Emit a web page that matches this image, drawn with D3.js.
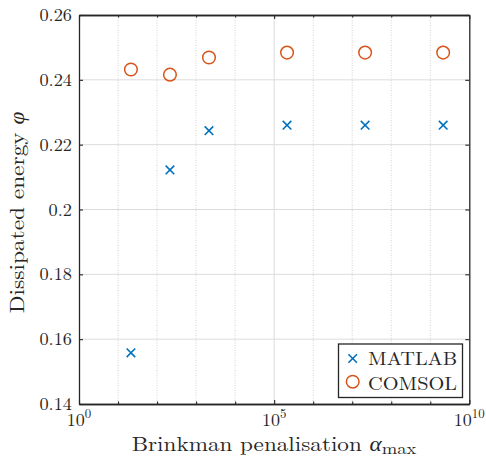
<!DOCTYPE html>
<html><head><meta charset="utf-8">
<script src="https://cdn.jsdelivr.net/npm/d3@7"></script>
<style>body{margin:0;background:#fff}svg{display:block}text{font-family:"Latin Modern Roman","CMU Serif","Liberation Serif",serif;fill:#262626}</style>
</head><body><svg id="c" width="486" height="466"></svg>
<script>
const alphaMax = [21.4, 214, 2140, 214000, 21400000, 2140000000];
const matlab = [0.1558, 0.2122, 0.2243, 0.2260, 0.2260, 0.2260];
const comsol = [0.2432, 0.2416, 0.2469, 0.2484, 0.2484, 0.2484];
const yTicks = [0.14, 0.16, 0.18, 0.2, 0.22, 0.24, 0.26];
const yTickLabels = ["0.14", "0.16", "0.18", "0.2", "0.22", "0.24", "0.26"];
const xMajor = [1, 1e5, 1e10];
const xMajorExp = ["0", "5", "10"];
const xMinor = [1e1, 1e2, 1e3, 1e4, 1e6, 1e7, 1e8, 1e9];

const svg = d3.select("#c");
const L = 79, R = 469.3, T = 15, B = 404;
const x = d3.scaleLog().domain([1, 1e10]).range([L, R]);
const y = d3.scaleLinear().domain([0.14, 0.26]).range([B, T]);
const axisCol = "#262626";

// grid
const g = svg.append("g");
g.selectAll(".hg").data(yTicks.slice(1, -1)).join("line")
  .attr("x1", L).attr("x2", R).attr("y1", d => y(d)).attr("y2", d => y(d))
  .attr("stroke", "#dcdcdc").attr("stroke-width", 1);
g.selectAll(".vg").data([1e5]).join("line")
  .attr("x1", d => x(d)).attr("x2", d => x(d)).attr("y1", T).attr("y2", B)
  .attr("stroke", "#dcdcdc").attr("stroke-width", 1);
g.selectAll(".mg").data(xMinor).join("line")
  .attr("x1", d => x(d)).attr("x2", d => x(d)).attr("y1", T).attr("y2", B)
  .attr("stroke", "#c8c8c8").attr("stroke-width", 0.8).attr("stroke-dasharray", "1,1.5");

// axes via d3
const axB = d3.axisBottom(x).tickValues(xMajor).tickSizeInner(-4).tickSizeOuter(0).tickFormat("");
const axT = d3.axisTop(x).tickValues(xMajor).tickSizeInner(-4).tickSizeOuter(0).tickFormat("");
const axBm = d3.axisBottom(x).tickValues(xMinor).tickSizeInner(-2.5).tickSizeOuter(0).tickFormat("");
const axTm = d3.axisTop(x).tickValues(xMinor).tickSizeInner(-2.5).tickSizeOuter(0).tickFormat("");
const axL = d3.axisLeft(y).tickValues(yTicks).tickSizeInner(-4).tickSizeOuter(0).tickFormat("");
const axR = d3.axisRight(y).tickValues(yTicks).tickSizeInner(-4).tickSizeOuter(0).tickFormat("");
function styleAx(sel){ sel.selectAll("path").attr("stroke", axisCol).attr("stroke-width", 1.3);
  sel.selectAll("line").attr("stroke", axisCol).attr("stroke-width", 1.1); }
svg.append("g").attr("transform", `translate(0,${B})`).call(axBm).call(styleAx);
svg.append("g").attr("transform", `translate(0,${T})`).call(axTm).call(styleAx);
svg.append("g").attr("transform", `translate(0,${B})`).call(axB).call(styleAx);
svg.append("g").attr("transform", `translate(0,${T})`).call(axT).call(styleAx);
svg.append("g").attr("transform", `translate(${L},0)`).call(axL).call(styleAx);
svg.append("g").attr("transform", `translate(${R},0)`).call(axR).call(styleAx);

// y tick labels
svg.selectAll(".yl").data(yTicks).join("text")
  .attr("transform", d => `translate(${L - 7},${y(d) + 6}) scale(1.03,1)`).attr("text-anchor", "end")
  .attr("font-size", 17.8).text((d, i) => yTickLabels[i]);
// x tick labels
const xl = svg.selectAll(".xl").data(xMajor).join("text")
  .attr("transform", d => `translate(${x(d)},425.5) scale(1.03,1)`).attr("text-anchor", "middle").attr("font-size", 17.5);
xl.append("tspan").text("10");
xl.append("tspan").attr("dy", -7.5).attr("font-size", 12.5).text((d, i) => xMajorExp[i]);

// axis titles
const xt = svg.append("text").attr("transform", "translate(274,450.5) scale(1.13,1)")
  .attr("text-anchor", "middle").attr("font-size", 20.5);
xt.append("tspan").text("Brinkman penalisation ");
xt.append("tspan").attr("font-style", "italic").text("α");
xt.append("tspan").attr("dy", 3).attr("font-size", 16.5).text("max");
const yt = svg.append("text").attr("transform", `translate(24,${(T + B) / 2 + 3}) rotate(-90) scale(1.14,1)`)
  .attr("text-anchor", "middle").attr("font-size", 20.5);
yt.append("tspan").text("Dissipated energy ");
yt.append("tspan").attr("font-style", "italic").text("φ");

// markers
const blue = "#0072BD", orange = "#D95319";
const cs = 4.3;
const crossPath = `M${-cs},${-cs}L${cs},${cs}M${-cs},${cs}L${cs},${-cs}`;
svg.selectAll(".mx").data(alphaMax).join("path")
  .attr("transform", (d, i) => `translate(${x(d)},${y(matlab[i])})`)
  .attr("d", crossPath).attr("stroke", blue).attr("stroke-width", 1.6).attr("fill", "none");
svg.selectAll(".co").data(alphaMax).join("circle")
  .attr("cx", d => x(d)).attr("cy", (d, i) => y(comsol[i])).attr("r", 6.3)
  .attr("stroke", orange).attr("stroke-width", 1.5).attr("fill", "none");

// legend
const lg = svg.append("g");
lg.append("rect").attr("x", 338.5).attr("y", 344).attr("width", 124).attr("height", 53.5)
  .attr("fill", "#fff").attr("stroke", axisCol).attr("stroke-width", 1.3);
lg.append("path").attr("transform", "translate(352.7,358.5)").attr("d", crossPath)
  .attr("stroke", blue).attr("stroke-width", 1.6).attr("fill", "none");
lg.append("circle").attr("cx", 352.7).attr("cy", 381.7).attr("r", 6.3)
  .attr("stroke", orange).attr("stroke-width", 1.5).attr("fill", "none");
lg.append("text").attr("transform", "translate(368,364.5) scale(1.1,1)").attr("font-size", 18.5).text("MATLAB");
lg.append("text").attr("transform", "translate(368,389.5) scale(1.1,1)").attr("font-size", 18.5).text("COMSOL");
</script></body></html>
